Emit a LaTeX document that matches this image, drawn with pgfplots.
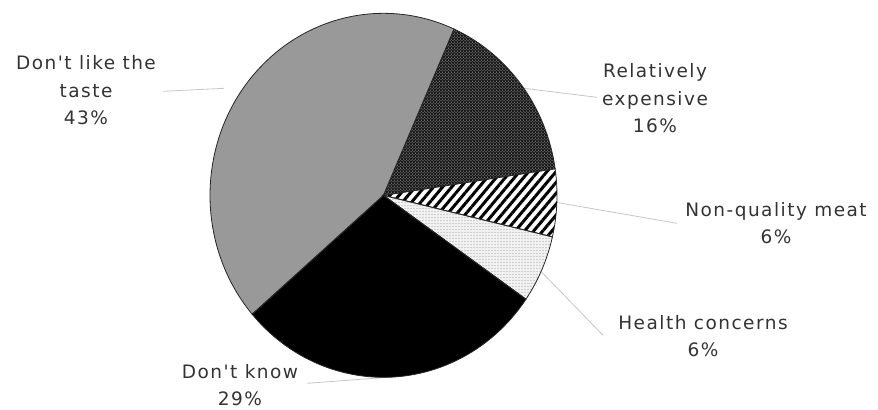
\documentclass[border=0pt]{standalone}
\usepackage{pgfplots}
\pgfplotsset{compat=1.18}
\usepackage{pgfplotstable}
\usepackage{fontspec}
\setmainfont[LetterSpace=8, Ligatures=TeXOff]{DejaVu Sans}
\usetikzlibrary{patterns,patterns.meta}

\pgfplotstableread[col sep=comma]{
label,value
Relatively expensive,16
Non-quality meat,6
Health concerns,6
Don't know,29
Don't like the taste,43
}\piedata

\newcommand\sector[3]{%
  \path[#1] (axis cs:383.5,212) -- ++(#2:173.5pt and 182pt)
    arc[start angle=#2,end angle=#3,x radius=173.5pt,y radius=182pt] -- cycle;}

\begin{document}
\begin{tikzpicture}
\pgfmathsetmacro\aA{66}
\pgfplotstablegetelem{0}{value}\of\piedata \pgfmathsetmacro\aB{\aA-3.6*\pgfplotsretval}
\pgfplotstablegetelem{1}{value}\of\piedata \pgfmathsetmacro\aC{\aB-3.6*\pgfplotsretval}
\pgfplotstablegetelem{2}{value}\of\piedata \pgfmathsetmacro\aD{\aC-3.6*\pgfplotsretval}
\pgfplotstablegetelem{3}{value}\of\piedata \pgfmathsetmacro\aE{\aD-3.6*\pgfplotsretval}
\pgfplotstablegetelem{4}{value}\of\piedata \pgfmathsetmacro\aF{\aE-3.6*\pgfplotsretval}
\begin{axis}[
  width=878pt, height=407pt, scale only axis,
  xmin=0, xmax=878, ymin=0, ymax=407,
  hide axis, clip=false,
]
\path (axis cs:0,0) rectangle (axis cs:878,407);
% leader lines
\draw[gray!45, line width=0.8pt] (axis cs:163,316) -- (axis cs:224,319);
\draw[gray!45, line width=0.8pt] (axis cs:524,319) -- (axis cs:597,310);
\draw[gray!45, line width=0.8pt] (axis cs:556,205) -- (axis cs:677,184);
\draw[gray!45, line width=0.8pt] (axis cs:540,137) -- (axis cs:603,72);
\draw[gray!45, line width=0.8pt] (axis cs:307,24) -- (axis cs:400,31);
% slices
\sector{fill=black!90}{\aA}{\aB}
\sector{pattern={crosshatch dots}, pattern color=gray!55}{\aA}{\aB}
\sector{fill=white}{\aB}{\aC}
\sector{pattern={Lines[angle=50,distance=7pt,line width=3pt]}, pattern color=black}{\aB}{\aC}
\sector{fill=white!95!black}{\aC}{\aD}
\sector{pattern={Dots[distance=3pt,radius=0.6pt]}, pattern color=gray!65}{\aC}{\aD}
\sector{fill=black}{\aD}{\aE}
\sector{fill=black!40}{\aE}{\aF}
\sector{draw=black!85, line width=0.8pt}{\aA}{\aB}
\sector{draw=black!85, line width=0.8pt}{\aB}{\aC}
\sector{draw=black!85, line width=0.8pt}{\aC}{\aD}
\sector{draw=black!85, line width=0.8pt}{\aD}{\aE}
\sector{draw=black!85, line width=0.8pt}{\aE}{\aF}
% labels
\tikzset{lbl/.style={align=center, text=black!80, font=\fontsize{18.5}{27.5}\selectfont}}
\node[lbl] at (axis cs:86,317) {Don't like the\\taste\\43\%};
\node[lbl] at (axis cs:655,309) {Relatively\\expensive\\16\%};
\node[lbl] at (axis cs:776,184) {Non-quality meat\\6\%};
\node[lbl] at (axis cs:703,71) {Health concerns\\6\%};
\node[lbl] at (axis cs:240,22) {Don't know\\29\%};
\end{axis}
\end{tikzpicture}
\end{document}
